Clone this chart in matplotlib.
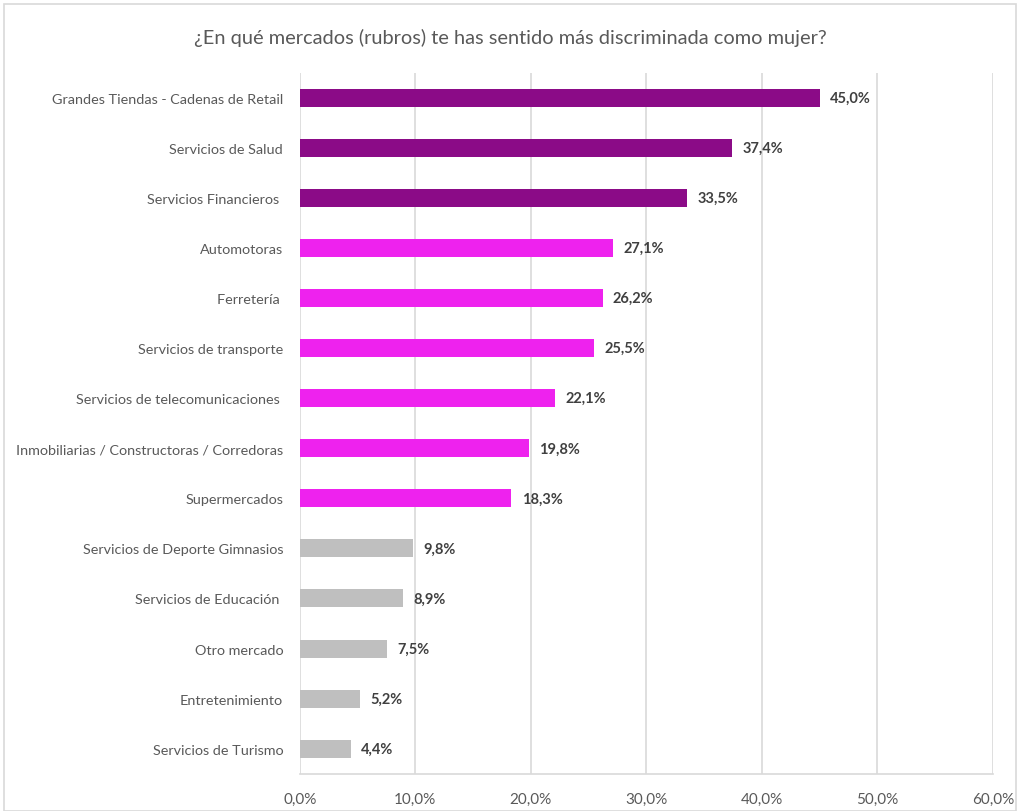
import matplotlib
matplotlib.use("Agg")
from matplotlib import pyplot as plt
from matplotlib.patches import Rectangle

plt.rcParams['font.family'] = ['Lato', 'DejaVu Sans']

categories = [
    "Grandes Tiendas - Cadenas de Retail",
    "Servicios de Salud",
    "Servicios Financieros ",
    "Automotoras",
    "Ferretería ",
    "Servicios de transporte",
    "Servicios de telecomunicaciones ",
    "Inmobiliarias / Constructoras / Corredoras",
    "Supermercados",
    "Servicios de Deporte Gimnasios",
    "Servicios de Educación ",
    "Otro mercado",
    "Entretenimiento",
    "Servicios de Turismo",
]
values = [45.0, 37.4, 33.5, 27.1, 26.2, 25.5, 22.1, 19.8, 18.3, 9.8, 8.9, 7.5, 5.2, 4.4]
groups = ["top"] * 3 + ["mid"] * 6 + ["low"] * 5
ticks = [0, 10, 20, 30, 40, 50, 60]

palette = {"top": "#8B0B87", "mid": "#EE22EE", "low": "#BFBFBF"}

fig = plt.figure(figsize=(10.2, 8.12), dpi=100)
ax = fig.add_axes([0.294, 0.046, 0.6795, 0.863])

ypos = list(range(len(categories)))[::-1]
ax.barh(ypos, values, height=0.36, color=[palette[g] for g in groups], zorder=3)

for y, v in zip(ypos, values):
    ax.text(v + 0.9, y, f"{v:.1f}%".replace(".", ","), va="center", ha="left",
            fontsize=10.5, fontweight="bold", color="#404040")

ax.set_xlim(0, 60)
ax.set_ylim(-0.5, 13.5)
ax.set_yticks(ypos)
ax.set_yticklabels(categories, fontsize=10.4, color="#595959")
ax.set_xticks(ticks)
ax.set_xticklabels([f"{t:.1f}%".replace(".", ",") for t in ticks], fontsize=11, color="#595959")
ax.tick_params(axis="both", length=0)
ax.tick_params(axis="y", pad=12)
ax.tick_params(axis="x", pad=13)
ax.grid(axis="x", color="#D9D9D9", linewidth=1.2, zorder=0)
for side in ["top", "right", "left"]:
    ax.spines[side].set_visible(False)
ax.spines["bottom"].set_color("#D9D9D9")
ax.spines["bottom"].set_linewidth(1.2)

fig.text(0.5, 0.953, "¿En qué mercados (rubros) te has sentido más discriminada como mujer?",
         ha="center", va="center", fontsize=14.4, color="#595959")

fig.patches.append(Rectangle((0.004, 0.0), 0.992, 0.994, transform=fig.transFigure,
                             fill=False, edgecolor="#D9D9D9", linewidth=1.2))

fig.savefig("out.png", dpi=100)
